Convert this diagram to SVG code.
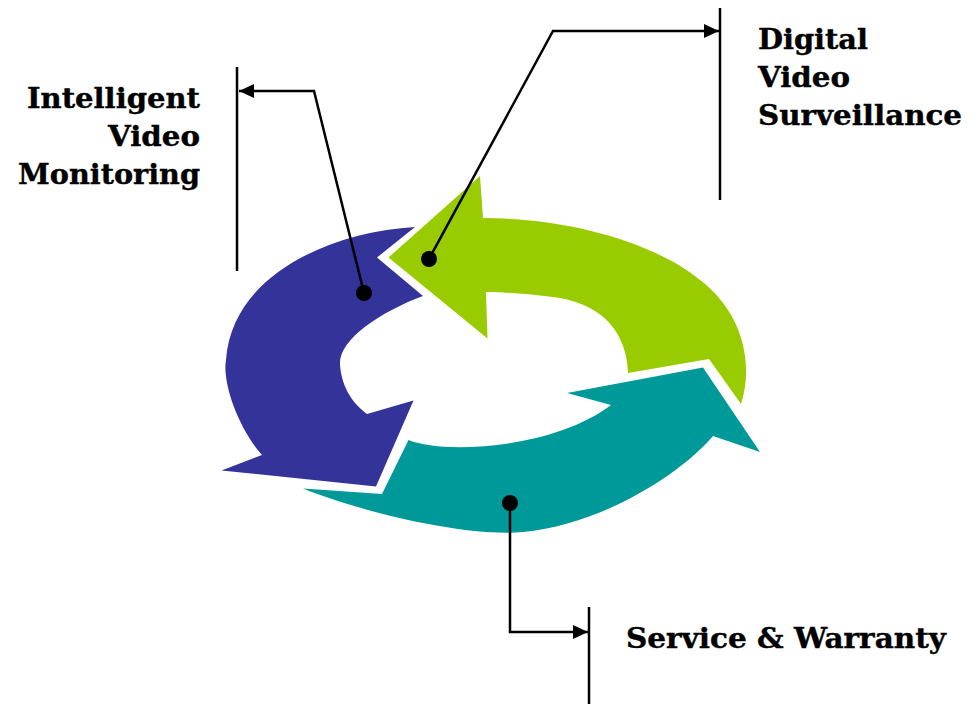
<svg xmlns="http://www.w3.org/2000/svg" width="980" height="704" viewBox="0 0 980 704">
<style>
.lbl{font-family:"DejaVu Serif","Liberation Serif",serif;font-weight:bold;font-size:28px;fill:#000;stroke:#000;stroke-width:0.4}
.bar{stroke:#000;stroke-width:2.5;fill:none}
.lead{stroke:#000;stroke-width:2.5;fill:none;stroke-linejoin:miter}
.dot{fill:#000}
</style>
<defs>
<marker id="ah" markerUnits="userSpaceOnUse" markerWidth="16" markerHeight="15" refX="15" refY="7" orient="auto">
<path d="M0,0 L15,7 L0,14 z" fill="#000"/>
</marker>
</defs>
<rect width="980" height="704" fill="#fff"/>

<g id="node-digital-video-surveillance">
<path fill="#99CC00" d="M388.5,257.5 L480,176 L483,218 C570,218 655,243 700,280 C740,310 755,360 741,404 L709,359 L628,373 C627,335 605,306 560,298 C540,295 505,292 486,292 L487.5,338.5 Z"/>
<line class="bar" x1="720" y1="8" x2="720" y2="200"/>
<text class="lbl" x="758" y="49" textLength="110" lengthAdjust="spacingAndGlyphs">Digital</text>
<text class="lbl" x="758" y="87" textLength="92" lengthAdjust="spacingAndGlyphs">Video</text>
<text class="lbl" x="758" y="125" textLength="204" lengthAdjust="spacingAndGlyphs">Surveillance</text>
</g>

<g id="node-intelligent-video-monitoring">
<path fill="#333399" d="M415,227 L377,257.5 L423,296 C380,312 338,340 340,365 C342,390 355,405 367,414 L413.5,400.5 L376,486.5 L221.5,470.5 L262,455 C238,428 222,382 226,360 C232,275 330,232 415,227 Z"/>
<line class="bar" x1="237" y1="67" x2="237" y2="271"/>
<text class="lbl" x="27" y="108" textLength="173" lengthAdjust="spacingAndGlyphs">Intelligent</text>
<text class="lbl" x="108" y="146" textLength="92" lengthAdjust="spacingAndGlyphs">Video</text>
<text class="lbl" x="18" y="184" textLength="182" lengthAdjust="spacingAndGlyphs">Monitoring</text>
</g>

<g id="node-service-warranty">
<path fill="#009999" d="M303,488.5 L382,494 L408.5,440 C445,455 555,448 611,405 L567,393 L703,367.5 L760,452 L713,436 C680,475 600,525 523,532 C470,537 370,515 303,488.5 Z"/>
<line class="bar" x1="589" y1="607" x2="589" y2="704"/>
<text class="lbl" x="626" y="648" textLength="320" lengthAdjust="spacingAndGlyphs">Service &amp; Warranty</text>
</g>

<g id="connectors">
<polyline class="lead" points="364,293 314,91 239,91" marker-end="url(#ah)"/>
<polyline class="lead" points="429,259 553,31 719,31" marker-end="url(#ah)"/>
<polyline class="lead" points="510,503 510,632 588,632" marker-end="url(#ah)"/>
<circle class="dot" cx="364" cy="293" r="8"/>
<circle class="dot" cx="429" cy="259" r="8"/>
<circle class="dot" cx="510" cy="503" r="8"/>
</g>
</svg>
